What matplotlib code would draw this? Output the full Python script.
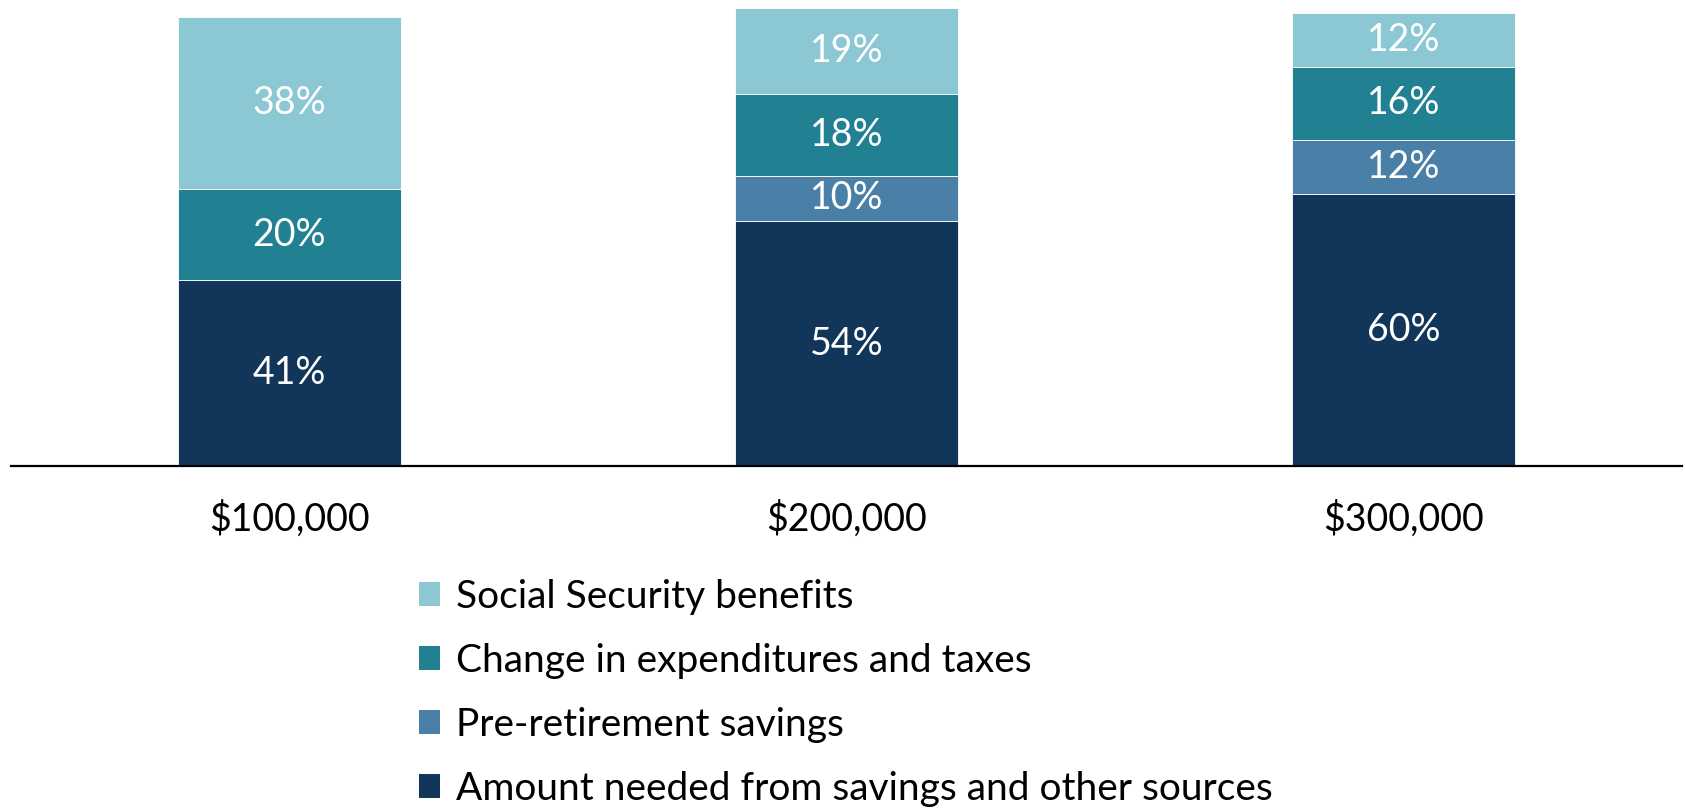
import matplotlib
matplotlib.use("Agg")
import matplotlib.pyplot as plt
from matplotlib.patches import Patch
import numpy as np

plt.rcParams['font.family'] = ['Lato', 'DejaVu Sans']

incomes = ['$100,000', '$200,000', '$300,000']
amount_needed = [41, 54, 60]
pre_retirement = [0, 10, 12]
expenditure_change = [20, 18, 16]
social_security = [38, 19, 12]

series = [
    ('Amount needed from savings and other sources', amount_needed, '#12355a'),
    ('Pre-retirement savings', pre_retirement, '#4a80a7'),
    ('Change in expenditures and taxes', expenditure_change, '#218193'),
    ('Social Security benefits', social_security, '#8cc8d3'),
]

fig = plt.figure(figsize=(16.85, 8.11), dpi=100)
ax = fig.add_axes([11 / 1685, 345 / 811, 1671 / 1685, 458 / 811])

x = np.arange(len(incomes))
bottom = np.zeros(len(incomes))
for name, vals, color in series:
    vals = np.array(vals, dtype=float)
    ax.bar(x, vals, 0.4, bottom=bottom, color=color, edgecolor='white',
           linewidth=0.6, label=name)
    for xi, b, v in zip(x, bottom, vals):
        if v > 0:
            ax.text(xi, b + v / 2, f'{v:.0f}%', ha='center', va='center',
                    color='white', fontsize=27)
    bottom += vals

ax.set_xlim(-0.5, 2.5)
ax.set_ylim(0, 101)
ax.set_xticks(x)
ax.set_xticklabels(incomes, fontsize=27)
ax.tick_params(axis='x', length=0, pad=25)
ax.set_yticks([])
for side in ['top', 'right', 'left']:
    ax.spines[side].set_visible(False)
ax.spines['bottom'].set_linewidth(1.6)

handles = [Patch(facecolor=c, label=n) for n, _, c in reversed(series)]
fig.legend(handles=handles, loc='upper left', bbox_to_anchor=(403 / 1685, 1 - 563 / 811),
           frameon=False, fontsize=28, handlelength=0.56, handleheight=0.56,
           handletextpad=0.4, labelspacing=0.72, borderaxespad=0)

fig.savefig('out.png', dpi=100)
